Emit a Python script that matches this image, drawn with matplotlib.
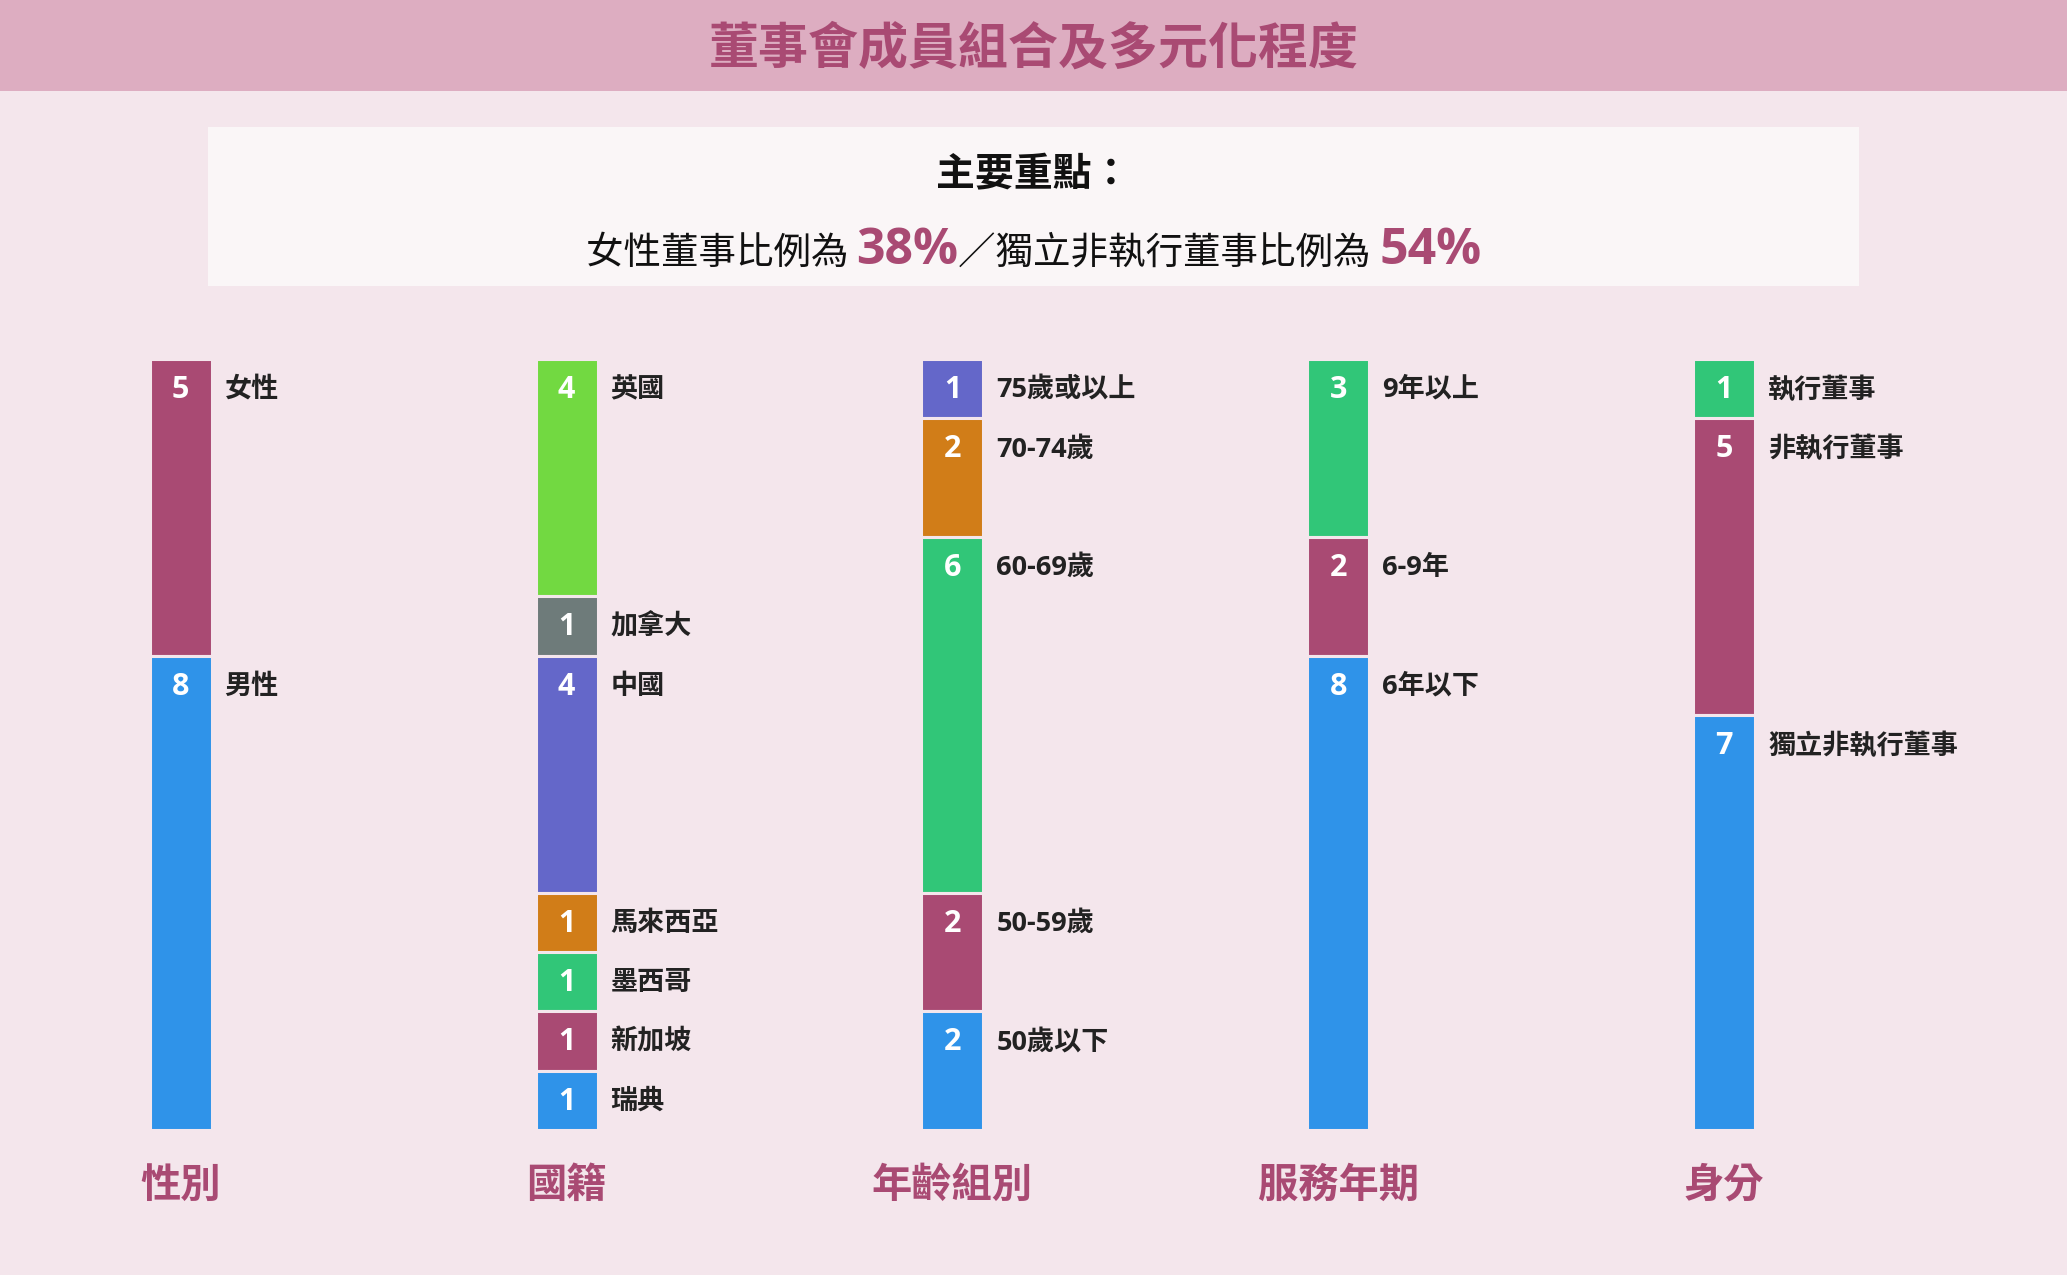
import matplotlib
matplotlib.use("Agg")
import matplotlib.pyplot as plt
from matplotlib.patches import Rectangle

# ---------------- data ----------------
groups = ["性別", "國籍", "年齡組別", "服務年期", "身分"]

gender_labels = ["女性", "男性"]
gender_values = [5, 8]

nationality_labels = ["英國", "加拿大", "中國", "馬來西亞", "墨西哥", "新加坡", "瑞典"]
nationality_values = [4, 1, 4, 1, 1, 1, 1]

age_labels = ["75歲或以上", "70-74歲", "60-69歲", "50-59歲", "50歲以下"]
age_values = [1, 2, 6, 2, 2]

tenure_labels = ["9年以上", "6-9年", "6年以下"]
tenure_values = [3, 2, 8]

role_labels = ["執行董事", "非執行董事", "獨立非執行董事"]
role_values = [1, 5, 7]

title = "董事會成員組合及多元化程度"
box_heading = "主要重點："

# ---------------- style ----------------
MAGENTA = "#A94A73"
BLUE = "#2F93E9"
GREEN = "#31C678"
LIME = "#72D941"
GRAY = "#6E7B7A"
INDIGO = "#6467C9"
ORANGE = "#D17D18"
BG = "#F4E6EC"
HEADER = "#DDADC1"
BOX = "#FAF6F7"
DARK = "#222222"

gender_colors = [MAGENTA, BLUE]
nationality_colors = [LIME, GRAY, INDIGO, ORANGE, GREEN, MAGENTA, BLUE]
age_colors = [INDIGO, ORANGE, GREEN, MAGENTA, BLUE]
tenure_colors = [GREEN, MAGENTA, BLUE]
role_colors = [GREEN, MAGENTA, BLUE]

CJK = ["Noto Sans CJK TC", "DejaVu Sans"]
MIX = ["Open Sans", "Noto Sans CJK TC", "DejaVu Sans"]
plt.rcParams["font.family"] = CJK

W, H = 2067, 1275
fig = plt.figure(figsize=(W / 100, H / 100), dpi=100, facecolor=BG)


def fy(px):
    return 1 - px / H


def fx(px):
    return px / W


# header band
fig.patches.append(Rectangle((0, fy(91)), 1, 91 / H, transform=fig.transFigure,
                             facecolor=HEADER, edgecolor="none", zorder=0))
fig.text(0.5, fy(49), title, ha="center", va="center", fontsize=36,
         fontweight="bold", color=MAGENTA, family=CJK)

# key-point box
fig.patches.append(Rectangle((fx(208), fy(286)), fx(1859) - fx(208), (286 - 127) / H,
                             transform=fig.transFigure, facecolor=BOX,
                             edgecolor="none", zorder=0))
fig.text(0.5, fy(175), box_heading, ha="center", va="center", fontsize=28,
         fontweight="bold", color="#111111", family=CJK)

female_ratio = f"{round(100 * gender_values[0] / sum(gender_values))}%"
ined_ratio = f"{round(100 * role_values[2] / sum(role_values))}%"
pieces = [
    ("女性董事比例為 ", dict(fontsize=27, fontweight="normal", color="#111111", family=CJK)),
    (female_ratio, dict(fontsize=36, fontweight="bold", color=MAGENTA, family=MIX)),
    ("／獨立非執行董事比例為 ", dict(fontsize=27, fontweight="normal", color="#111111", family=CJK)),
    (ined_ratio, dict(fontsize=36, fontweight="bold", color=MAGENTA, family=MIX)),
]
renderer = fig.canvas.get_renderer()
base_y = fy(264)
objs = []
for s, kw in pieces:
    t = fig.text(0, base_y, s, ha="left", va="baseline", **kw)
    objs.append(t)
widths = [t.get_window_extent(renderer).width for t in objs]
total = sum(widths)
x0 = (W - total) / 2
for t, w in zip(objs, widths):
    t.set_x(x0 / W)
    x0 += w

# ---------------- bars ----------------
top_px, bot_px = 359, 1130
x0_px, step_px = 180.6, 385.9
ax = fig.add_axes([0, fy(bot_px), 1, (bot_px - top_px) / H])
ax.set_xlim(-x0_px / step_px, (W - x0_px) / step_px)
total_n = sum(gender_values)
ax.set_ylim(total_n, 0)
ax.axis("off")
ax.patch.set_alpha(0)

bar_w = 62 / step_px
series = [
    (gender_labels, gender_values, gender_colors),
    (nationality_labels, nationality_values, nationality_colors),
    (age_labels, age_values, age_colors),
    (tenure_labels, tenure_values, tenure_colors),
    (role_labels, role_values, role_colors),
]
unit_px = (bot_px - top_px) / total_n
for i, (labs, vals, cols) in enumerate(series):
    cum = 0
    for lab, v, c in zip(labs, vals, cols):
        ax.bar(i, v, bottom=cum, width=bar_w, color=c, edgecolor=BG,
               linewidth=2.2, align="center")
        yt = cum + 31 / unit_px
        ax.text(i, yt, str(v), ha="center", va="center", color="white",
                fontsize=22, fontweight="bold", family=MIX)
        ax.text(i + bar_w / 2 + 13 / step_px, yt, lab, ha="left", va="center",
                color=DARK, fontsize=19.5, fontweight="bold", family=MIX)
        cum += v
    ax.text(i, total_n + (1185 - bot_px) / unit_px, groups[i], ha="center",
            va="center", color=MAGENTA, fontsize=29, fontweight="bold",
            family=CJK, clip_on=False)

fig.savefig("out.png", dpi=100, facecolor=BG)
